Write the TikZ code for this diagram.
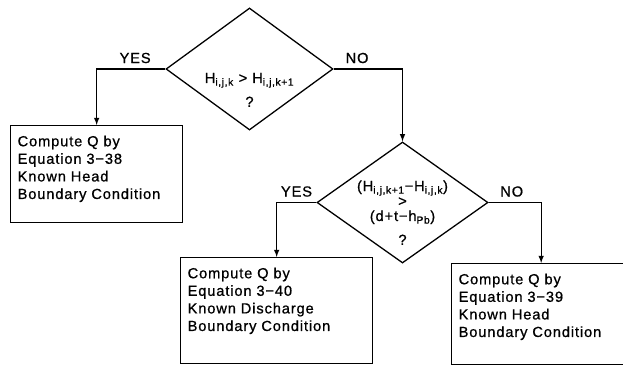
\documentclass[tikz,border=0pt]{standalone}
\usepackage{fontspec}
\newfontfamily\flowfont[LetterSpace=6,FakeBold=0.8]{Liberation Sans}
\usetikzlibrary{arrows,shapes,positioning}
\tikzset{
  basic/.style    = {draw, line width=1.1pt, font=\flowfont\fontsize{12.5}{15}\selectfont},
  decision/.style = {basic, diamond, inner sep=0pt, align=center},
  result/.style   = {basic, rectangle, anchor=north west, align=left,
                     inner xsep=0.21cm, inner ysep=0.3cm},
  answer/.style   = {font=\flowfont\fontsize{12.5}{15}\selectfont, inner sep=1pt}
}
\begin{document}
\begin{tikzpicture}[x=0.03cm, y=-0.03cm, >=latex]
\useasboundingbox (0,0) rectangle (623,367);

% the two tests
\node[decision, minimum width=5.01cm, minimum height=3.66cm] (d1) at (249.5,69)
  {\raisebox{-0.42cm}[0pt][0pt]{\begin{tabular}[t]{@{}c@{}}
     H\textsubscript{i,j,k} > H\textsubscript{i,j,k+1}\\[5.4pt] ?
   \end{tabular}}};
\node[decision, minimum width=5.13cm, minimum height=3.63cm,
      font=\flowfont\fontsize{12.5}{14}\selectfont] (d2) at (402.5,202.5)
  {\raisebox{0.345cm}[0pt][0pt]{\begin{tabular}[t]{@{}c@{}}
     (H\textsubscript{i,j,k+1}−H\textsubscript{i,j,k})\\[-1.2pt] >\\[-1.2pt]
     (d+t−h\textsubscript{Pb})\\[6.4pt] ?
   \end{tabular}}};

% the three results
\node[result, text width=4.74cm, text depth=1.98cm] (b1) at (10,125)
  {Compute Q by\\ Equation 3−38\\ Known Head\\ Boundary Condition};
\node[result, text width=5.34cm, text depth=2.25cm] (b2) at (180,257)
  {Compute Q by\\ Equation 3−40\\ Known Discharge\\ Boundary Condition};
\node[result, text width=4.95cm, text depth=2.1cm] (b3) at (451,263)
  {Compute Q by\\ Equation 3−39\\ Known Head\\ Boundary Condition};

% connectors with their answers
\draw[->, line width=1.1pt] (d1.west) -| node[answer, pos=0.22, above=0.12cm] (yes1) {YES} (b1.north);
\draw[->, line width=1.1pt] (d1.east) -| node[answer, pos=0.17, above=0.12cm] (no1) {NO} (d2.north);
\draw[->, line width=1.1pt] (d2.west) -| node[answer, pos=0.25, above=0.12cm] (yes2) {YES} (b2.north);
\draw[->, line width=1.1pt] (d2.east) -| node[answer, pos=0.22, above=0.12cm] (no2) {NO} (b3.north);
\end{tikzpicture}
\end{document}
